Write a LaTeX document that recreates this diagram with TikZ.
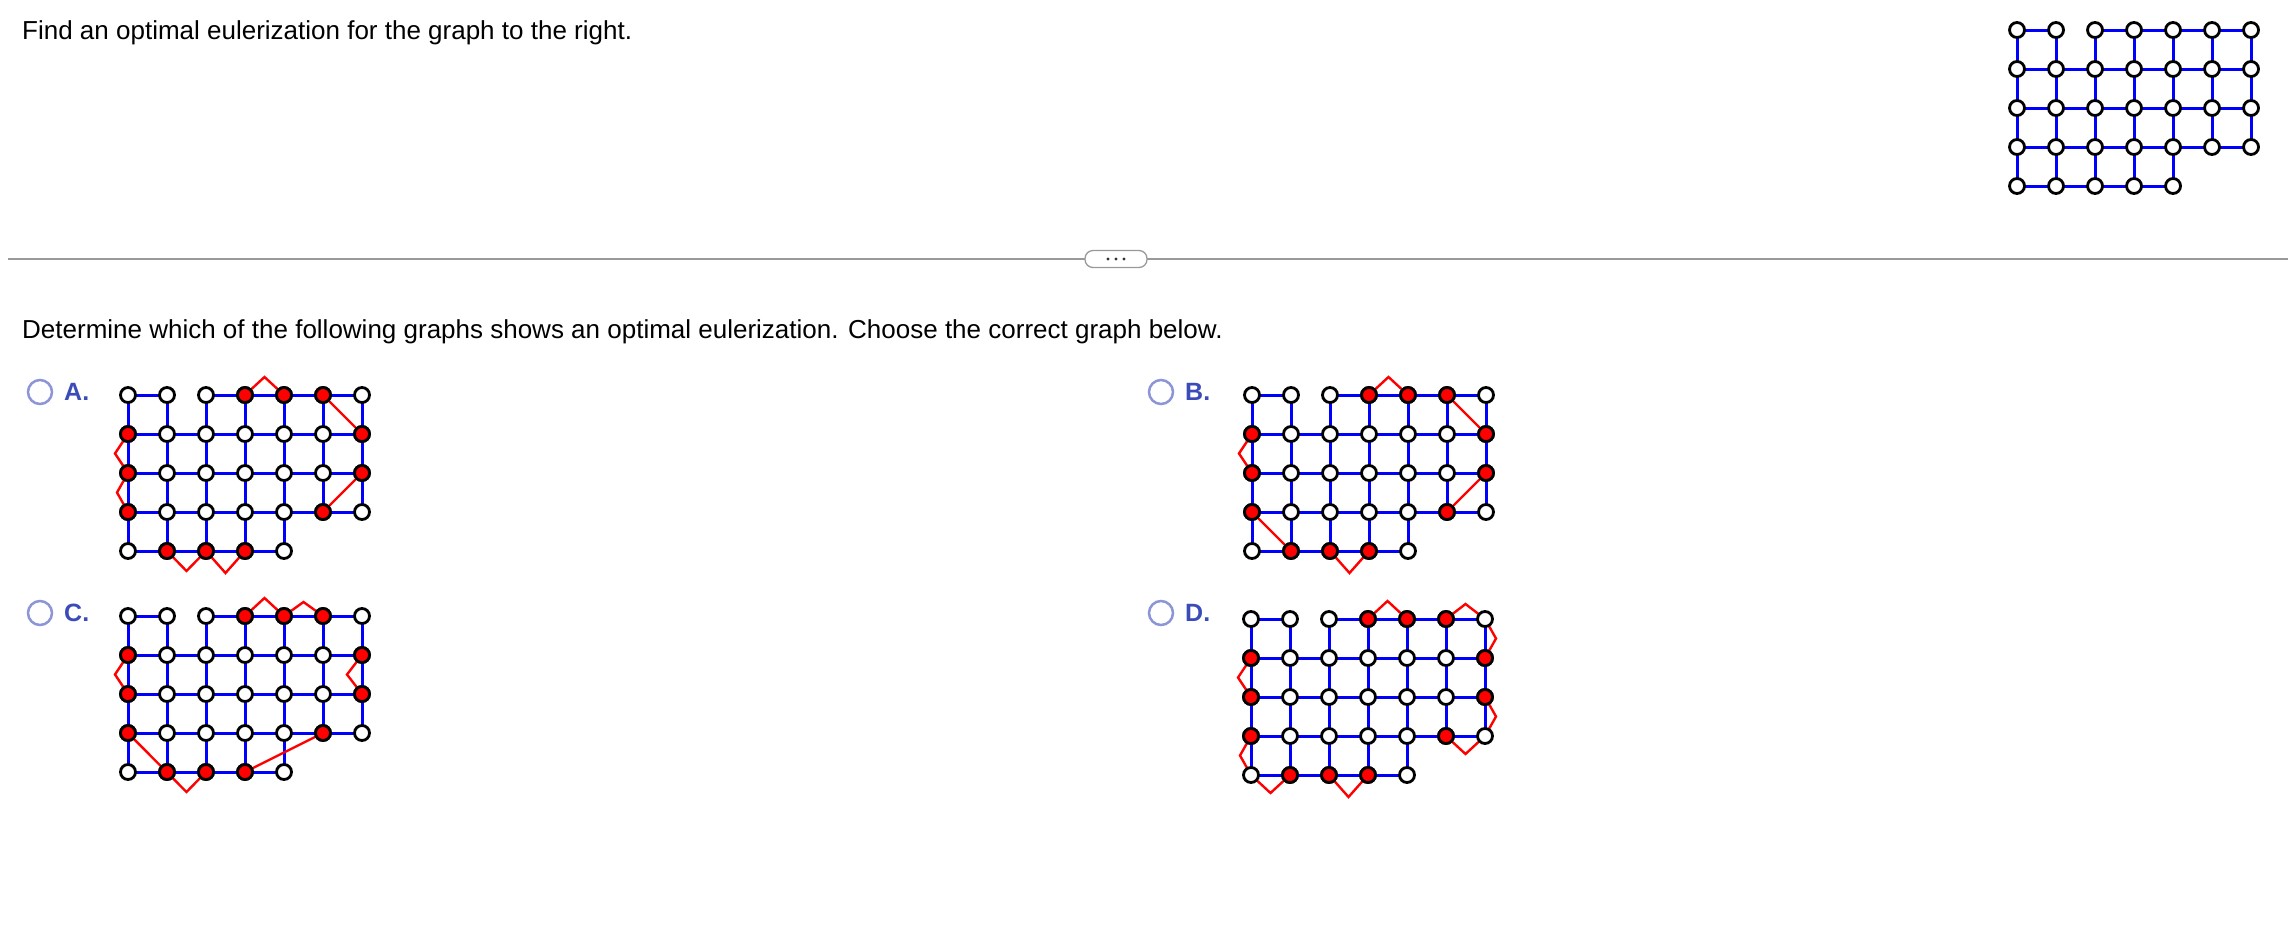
\documentclass[tikz,border=0pt]{standalone}
\usepackage{fontspec}
\setmainfont{Liberation Sans}
\usetikzlibrary{calc}
\definecolor{optblue}{RGB}{59,76,184}
\definecolor{radio}{RGB}{140,150,215}
\tikzset{
  blueedge/.style={draw=blue,line width=3pt},
  rededge/.style={draw=red,line width=2.4pt},
  vtx/.style={circle,draw=black,line width=2.8pt,fill=white,minimum size=15pt,inner sep=0pt},
  rvtx/.style={vtx,fill=red},
  txt/.style={anchor=west,font=\fontsize{26}{30}\selectfont,inner sep=0pt},
  optlbl/.style={anchor=west,font=\fontsize{25}{30}\selectfont\bfseries,text=optblue,inner sep=0pt},
  radiobtn/.style={circle,draw=radio,line width=2.5pt,minimum size=24pt,inner sep=0pt}
}
\newcommand\gridcoords[3]{%
  \foreach \c in {0,...,6}{\foreach \r in {0,...,4}{%
    \coordinate (#1-\c-\r) at ({#2+39*\c},{#3+39*\r});}}}
\newcommand\gridedges[1]{%
  \foreach \r in {1,2,3}{\foreach \c [evaluate=\c as \d using int(\c+1)] in {0,...,5}{\draw[blueedge] (#1-\c-\r) -- (#1-\d-\r);}}
  \foreach \c/\d in {0/1,2/3,3/4,4/5,5/6}{\draw[blueedge] (#1-\c-0) -- (#1-\d-0);}
  \foreach \c/\d in {0/1,1/2,2/3,3/4}{\draw[blueedge] (#1-\c-4) -- (#1-\d-4);}
  \foreach \c in {0,...,4}{\foreach \r [evaluate=\r as \s using int(\r+1)] in {0,...,3}{\draw[blueedge] (#1-\c-\r) -- (#1-\c-\s);}}
  \foreach \c in {5,6}{\foreach \r [evaluate=\r as \s using int(\r+1)] in {0,...,2}{\draw[blueedge] (#1-\c-\r) -- (#1-\c-\s);}}
}
\newcommand\gridnodes[1]{%
  \foreach \c in {0,...,6}{\foreach \r in {0,...,4}{%
    \ifnum\c>4 \ifnum\r=4 \else \node[vtx] (#1n-\c-\r) at (#1-\c-\r) {};\fi
    \else \node[vtx] (#1n-\c-\r) at (#1-\c-\r) {};\fi}}}
\newcommand\rednodes[1]{%
  \foreach \c/\r in {3/0,4/0,5/0,0/1,6/1,0/2,6/2,0/3,5/3,1/4,2/4,3/4}{\node[rvtx] (#1r-\c-\r) at (#1-\c-\r) {};}}
\newcommand\bendedge[3]{\draw[rededge] (#1) -- ($(#1)!.5!(#2)+#3$) -- (#2);}
\begin{document}
\begin{tikzpicture}[x=1pt,y=-1pt]
\useasboundingbox[fill=white] (0,0) rectangle (2296,946);
\node[txt] (q1) at (22,33) {Find an optimal eulerization for the graph to the right.};
\draw[draw=gray!80,line width=1.3pt] (8,259) -- (2288,259);
\node[draw=gray!80,fill=white,rounded corners=8pt,line width=1.3pt,minimum width=62pt,minimum height=17pt,inner sep=0pt] (more) at (1116,259) {};
\foreach \i in {-1,0,1}{\fill[gray!40!black] ($(more)+(\i*8,0)$) circle (1.7pt);}
\node[txt] (q2) at (22,332) {Determine which of the following graphs shows an optimal eulerization. Choose the correct graph below.};
% main graph
\gridcoords{M}{2017}{30}
\gridedges{M}
\gridnodes{M}
% options
\node[radiobtn] (ra) at (40,392) {}; \node[optlbl] (la) at (64,392) {A.};
\node[radiobtn] (rb) at (1161,392) {}; \node[optlbl] (lb) at (1185,392) {B.};
\node[radiobtn] (rc) at (40,613) {}; \node[optlbl] (lc) at (64,613) {C.};
\node[radiobtn] (rd) at (1161,613) {}; \node[optlbl] (ld) at (1185,613) {D.};
% A
\gridcoords{A}{128}{395}
\gridedges{A}
\bendedge{A-3-0}{A-4-0}{(0,-18)}
\draw[rededge] (A-5-0) -- (A-6-1);
\bendedge{A-0-1}{A-0-2}{(-13,0)}
\bendedge{A-0-2}{A-0-3}{(-11,0)}
\draw[rededge] (A-6-2) -- (A-5-3);
\bendedge{A-1-4}{A-2-4}{(0,20)}
\bendedge{A-2-4}{A-3-4}{(0,22)}
\gridnodes{A}\rednodes{A}
% B
\gridcoords{B}{1252}{395}
\gridedges{B}
\bendedge{B-3-0}{B-4-0}{(0,-18)}
\draw[rededge] (B-5-0) -- (B-6-1);
\bendedge{B-0-1}{B-0-2}{(-13,0)}
\draw[rededge] (B-0-3) -- (B-1-4);
\bendedge{B-2-4}{B-3-4}{(0,22)}
\draw[rededge] (B-6-2) -- (B-5-3);
\gridnodes{B}\rednodes{B}
% C
\gridcoords{C}{128}{616}
\gridedges{C}
\bendedge{C-3-0}{C-4-0}{(0,-18)}
\bendedge{C-4-0}{C-5-0}{(0,-14)}
\bendedge{C-0-1}{C-0-2}{(-13,0)}
\bendedge{C-6-1}{C-6-2}{(-15,0)}
\coordinate (C-low) at ($(C-1-4)!.5!(C-2-4)+(0,20)$);
\draw[rededge] (C-0-3) -- (C-low) -- (C-2-4);
\draw[rededge] (C-3-4) -- (C-5-3);
\gridnodes{C}\rednodes{C}
% D
\gridcoords{D}{1251}{619}
\gridedges{D}
\bendedge{D-3-0}{D-4-0}{(0,-18)}
\bendedge{D-5-0}{D-6-0}{(0,-15)}
\bendedge{D-6-0}{D-6-1}{(11,0)}
\bendedge{D-0-1}{D-0-2}{(-13,0)}
\bendedge{D-6-2}{D-6-3}{(11,0)}
\bendedge{D-6-3}{D-5-3}{(0,18)}
\bendedge{D-0-3}{D-0-4}{(-11,0)}
\bendedge{D-0-4}{D-1-4}{(0,18)}
\bendedge{D-2-4}{D-3-4}{(0,22)}
\gridnodes{D}\rednodes{D}
\end{tikzpicture}
\end{document}
